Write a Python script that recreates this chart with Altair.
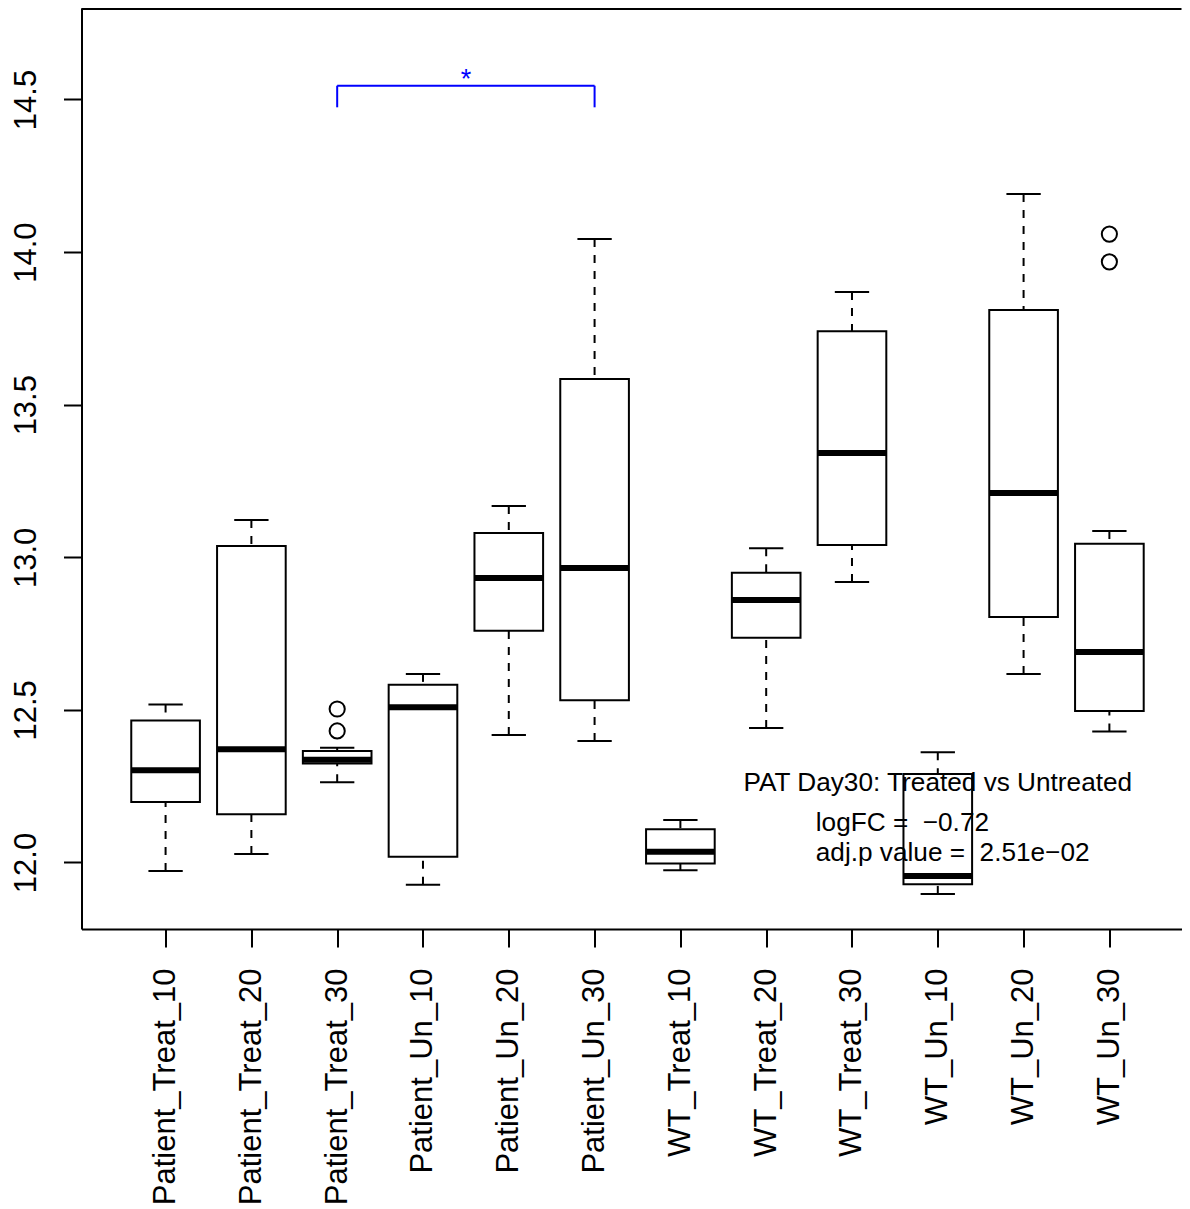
import altair as alt
import pandas as pd

FONT = "Liberation Sans"

# ---------------- data ----------------
categories = ["Patient_Treat_10", "Patient_Treat_20", "Patient_Treat_30",
              "Patient_Un_10", "Patient_Un_20", "Patient_Un_30",
              "WT_Treat_10", "WT_Treat_20", "WT_Treat_30",
              "WT_Un_10", "WT_Un_20", "WT_Un_30"]
whisker_low = [11.972, 12.028, 12.263, 11.927, 12.418, 12.398,
               11.975, 12.441, 12.919, 11.897, 12.618, 12.429]
q1 = [12.198, 12.158, 12.324, 12.019, 12.759, 12.532,
      11.997, 12.736, 13.040, 11.929, 12.804, 12.496]
median = [12.302, 12.371, 12.337, 12.509, 12.932, 12.965,
          12.035, 12.860, 13.342, 11.956, 13.211, 12.690]
q3 = [12.465, 13.037, 12.365, 12.582, 13.080, 13.584,
      12.109, 12.949, 13.741, 12.290, 13.810, 13.044]
whisker_high = [12.518, 13.122, 12.376, 12.618, 13.168, 14.043,
                12.139, 13.030, 13.869, 12.361, 14.190, 13.086]
outlier_group = ["Patient_Treat_30", "Patient_Treat_30", "WT_Un_30", "WT_Un_30"]
outlier_value = [12.503, 12.431, 14.059, 13.968]
y_ticks = [12.0, 12.5, 13.0, 13.5, 14.0, 14.5]

# significance bracket (between two groups) and its label
bracket_from = "Patient_Treat_30"
bracket_to = "Patient_Un_30"
bracket_y = 14.5452
bracket_drop = 14.4744
star_y = 14.538
star_label = "*"

# statistics annotation
title_text = "PAT Day30: Treated vs Untreated"
title_pos = (10.0, 12.2359)
stat_lines = ["logFC =\u00a0 \u22120.72", "adj.p value =\u00a0 2.51e\u221202"]
stat_x = 8.578
stat_y = [12.1048, 12.0033]

# ---------------- tables ----------------
idx = list(range(1, len(categories) + 1))
boxes = pd.DataFrame({"group": categories, "idx": idx, "lo": whisker_low, "q1": q1,
                      "med": median, "q3": q3, "hi": whisker_high})
outliers = pd.DataFrame({"idx": [categories.index(g) + 1 for g in outlier_group],
                         "value": outlier_value})
b0 = categories.index(bracket_from) + 1
b1 = categories.index(bracket_to) + 1
bracket_h = pd.DataFrame({"x": [b0], "x2": [b1], "y": [bracket_y]})
bracket_v = pd.DataFrame({"x": [b0, b1], "y": [bracket_y, bracket_y], "y2": [bracket_drop, bracket_drop]})
star = pd.DataFrame({"x": [(b0 + b1) / 2], "y": [star_y], "t": [star_label]})
title_df = pd.DataFrame({"x": [title_pos[0]], "y": [title_pos[1]], "t": [title_text]})
stats_df = pd.DataFrame({"x": [stat_x] * len(stat_lines), "y": stat_y, "t": stat_lines})

# ---------------- scales & axes ----------------
x_scale = alt.Scale(domain=[0.02, 12.8405], nice=False, zero=False)
y_scale = alt.Scale(domain=[11.7821, 14.7998], nice=False, zero=False)

label_array = "[" + ",".join("'" + c + "'" for c in categories) + "]"
x_axis = alt.Axis(values=idx, labelExpr=label_array + "[datum.value - 1]", title=None,
                  labelAngle=270, labelAlign="right", labelBaseline="middle",
                  labelPadding=21, tickSize=18, tickWidth=2, tickColor="black",
                  domainColor="black", domainWidth=2, labelFont=FONT, labelFontSize=31,
                  labelColor="black", grid=False, labelFlush=False, labelOverlap=False,
                  labelLimit=1000)
y_axis = alt.Axis(values=y_ticks, format=".1f", title=None,
                  labelAngle=270, labelAlign="center", labelBaseline="alphabetic",
                  labelPadding=28, tickSize=18, tickWidth=2, tickColor="black",
                  domainColor="black", domainWidth=2, labelFont=FONT, labelFontSize=31,
                  labelColor="black", grid=False, labelFlush=False, labelOverlap=False,
                  labelLimit=1000)


def X(f):
    return alt.X(f + ":Q", scale=x_scale, axis=x_axis)


def Y(f):
    return alt.Y(f + ":Q", scale=y_scale, axis=y_axis)


base = alt.Chart(boxes).transform_calculate(
    xl="datum.idx - 0.4", xr="datum.idx + 0.4",
    sl="datum.idx - 0.2", sr="datum.idx + 0.2")

whisk_up = base.mark_rule(color="black", strokeWidth=2, strokeDash=[8, 8]).encode(
    x=X("idx"), y=Y("hi"), y2="q3")
whisk_dn = base.mark_rule(color="black", strokeWidth=2, strokeDash=[8, 8]).encode(
    x=X("idx"), y=Y("lo"), y2="q1")
staple_up = base.mark_rule(color="black", strokeWidth=2).encode(
    x=X("sl"), x2="sr", y=Y("hi"))
staple_dn = base.mark_rule(color="black", strokeWidth=2).encode(
    x=X("sl"), x2="sr", y=Y("lo"))
box = base.mark_rect(fill="white", stroke="black", strokeWidth=2).encode(
    x=X("xl"), x2="xr", y=Y("q1"), y2="q3")
med = base.mark_rule(color="black", strokeWidth=6, strokeCap="butt").encode(
    x=X("xl"), x2="xr", y=Y("med"))
outl = alt.Chart(outliers).mark_point(shape="circle", filled=False, color="black",
                                      strokeWidth=2, size=230, opacity=1).encode(
    x=X("idx"), y=Y("value"))

br_h = alt.Chart(bracket_h).mark_rule(color="#0000FF", strokeWidth=2).encode(
    x=X("x"), x2="x2", y=Y("y"))
br_v = alt.Chart(bracket_v).mark_rule(color="#0000FF", strokeWidth=2).encode(
    x=X("x"), y=Y("y"), y2="y2")
star_t = alt.Chart(star).mark_text(color="#0000FF", font=FONT, fontSize=27,
                                   align="center", baseline="alphabetic").encode(
    x=X("x"), y=Y("y"), text="t:N")
title_t = alt.Chart(title_df).mark_text(color="black", font=FONT, fontSize=26.2,
                                        align="center", baseline="alphabetic").encode(
    x=X("x"), y=Y("y"), text="t:N")
stats_t = alt.Chart(stats_df).mark_text(color="black", font=FONT, fontSize=26.2,
                                        align="left", baseline="alphabetic").encode(
    x=X("x"), y=Y("y"), text="t:N")

top_line = alt.Chart(title_df).mark_rule(color="black", strokeWidth=2).encode(
    x=alt.value(0), x2=alt.value(1100), y=alt.value(1))

chart = alt.layer(
    whisk_up, whisk_dn, staple_up, staple_dn, box, med, outl,
    br_h, br_v, star_t, title_t, stats_t, top_line
).properties(
    width=1100, height=921,
    autosize=alt.AutoSizeParams(type="none"),
    padding={"left": 73.5, "top": 0, "right": 0, "bottom": 278},
    background="white",
).configure_view(strokeWidth=0)

chart.save("out.html", embed_options={"renderer": "svg", "actions": False})
